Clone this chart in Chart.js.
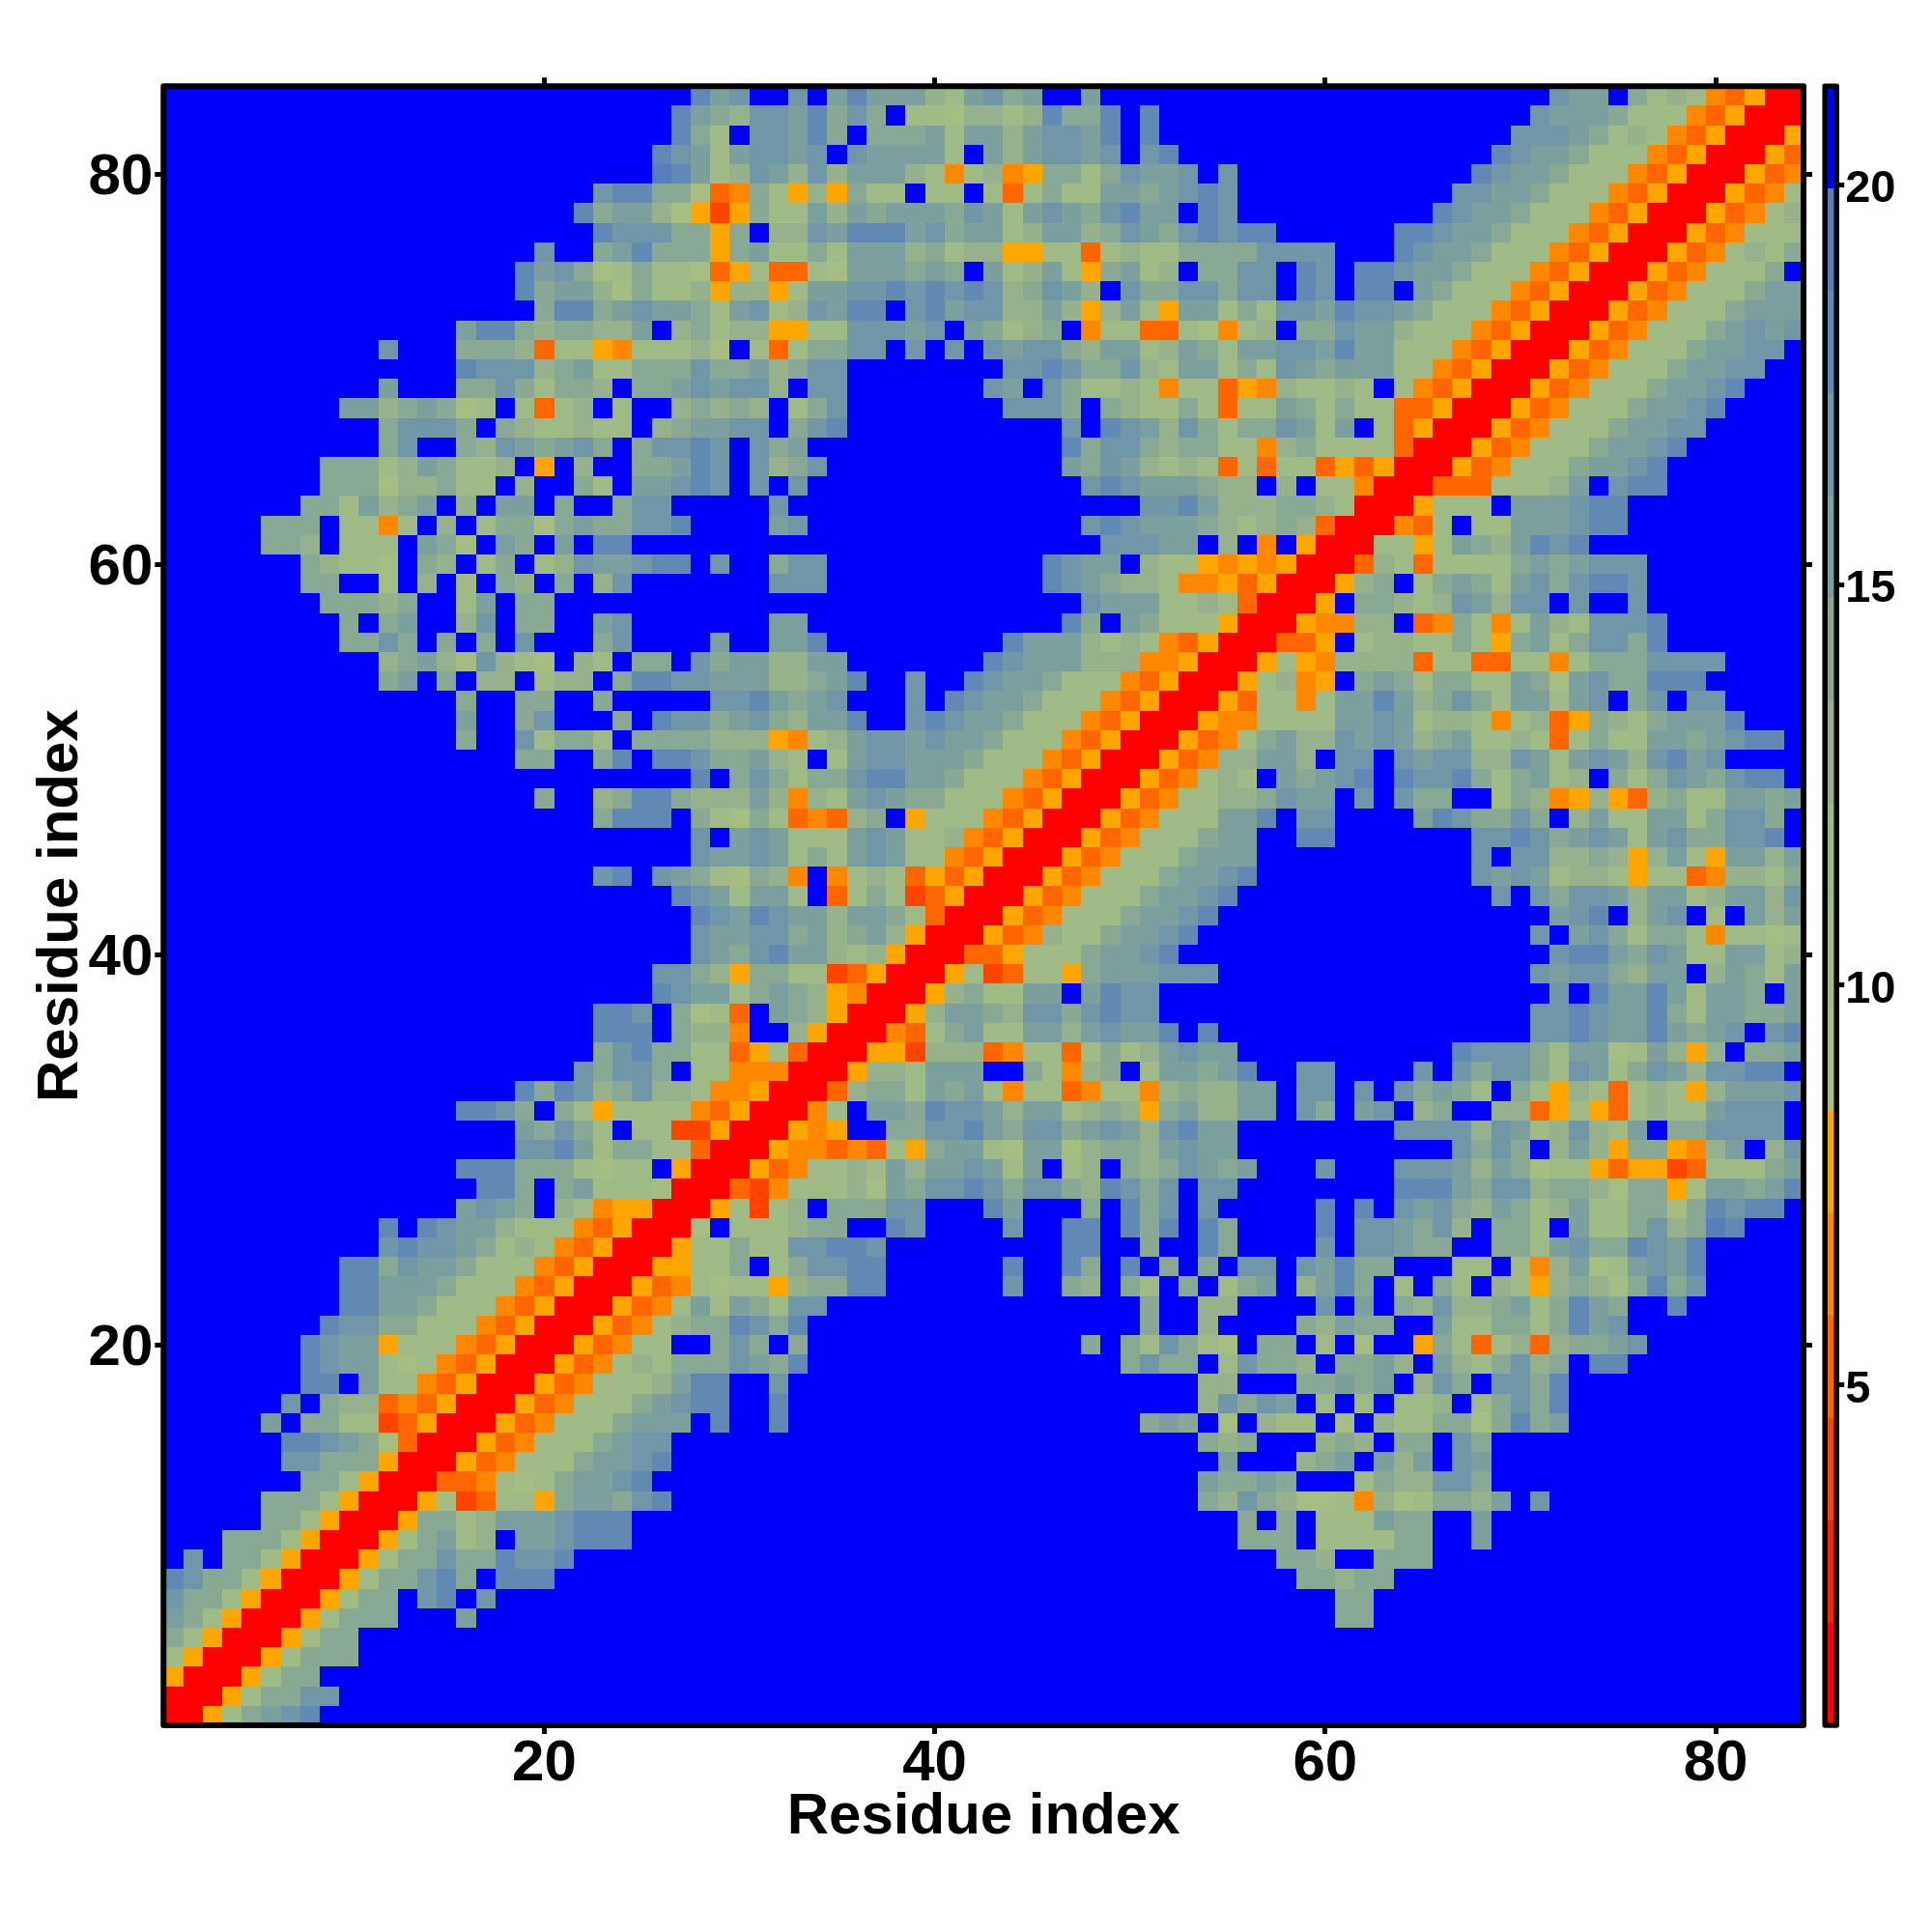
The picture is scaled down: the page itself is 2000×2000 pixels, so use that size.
<!DOCTYPE html>
<html lang="en">

<head>
    <meta charset="UTF-8">
    <title>Residue distance map</title>
    <script src="https://cdn.jsdelivr.net/npm/chart.js"></script>
    <style>
        body {
            margin: 0;
            background-color: #ffffff;
        }

        #mapChart,
        #barChart {
            position: absolute;
            top: 0;
            display: block;
        }

        #mapChart {
            left: 0;
        }

        #barChart {
            left: 1860px;
        }
    </style>
</head>

<body>

    <canvas id="mapChart" width="2000" height="2000"></canvas>
    <canvas id="barChart" width="140" height="2000"></canvas>

    <script>
        const RESIDUES = 84;
        const axisTicks = [20, 40, 60, 80];
        const barTicks = [5, 10, 15, 20];
        const axisTitle = 'Residue index';

        // colour band edges
        const bandEdges = [0.75, 2.03, 3.31, 4.59, 5.87, 7.15, 8.43, 9.71, 10.99, 12.27, 13.55, 14.83, 16.11, 17.39, 18.67, 19.95, 21.23];
        const bandColors = ['#ff0000', '#ff2200', '#ff4400', '#ff6600', '#ff8800', '#ffa500',
            '#aac07e', '#a5bd80', '#9fba85', '#96b18c', '#8aa995', '#7ca09e', '#6f97a8', '#6089b3', '#5580bb', '#0000ff'];

        // map, one hex digit (colour band) per cell.
        // top row is residue 84, each row runs from residue 1 up to the diagonal; the map is symmetric
        const distanceRows = [
            'fffffff fffffff fffffff ffffffd bcffcfb dbbb98b cabffbf fffffff fffffff fffffff fcbbfa8 9843500',
            'fffffff fffffff fffffff fffffdb a9ccbda caf8879 989daad fdfffff fffffff fffffff cbbba88 843500',
            'fffffff fffffff fffffff fffffda 8fccbda faaab8b b9bccbd fdfffff fffffff ffffffc ccba898 43500',
            'fffffff fffffff fffffff ffffdcb 8bccbcf cbbbb8f b9bccbc fcdffff fffffff fffffdc bba8884 3500',
            'fffffff fffffff fffffff ffffedb 89cb9c9 bbb9848 945aa8a cbbcfcf fffffff ffffdcb ba88843 500',
            'fffffff fffffff fffffff fcddaa7 34a8595 a88f88f 838a88b babcdcf fffffff fffccbb a888435 00',
            'fffffff fffffff fffffff dabb975 25a88b9 babbbac b8bcbac dbbfdcf fffffff ffdcbba 8884350 0',
            'fffffff fffffff fffffff fdcccaa 5af99cb dddbcab b89bb9a cbacdcd dffffff ddcbba8 8843500',
            'fffffff fffffff fffffcf fabdaaa 5ab88a8 bbb9a89 9558838 988aaaa ccccfff dcbba88 843500',
            'fffffff fffffff ffffdbc a78a887 3583387 bbbabaf b89b85a b89faac cfdcfdd cbba888 43500',
            'fffffff fffffff ffffdab b97a889 59958bb ccdcdcd c9acb9f caaccac cfdcfdd fba8884 3500',
            'fffffff fffffff fffffad dabcbba 8bc89cb ddfcdbc c99b959 b85bb8a 8ccbdcc ba88843 500',
            'fffffff fffffff fbdda9a a99bf9a 8995588 cccbcfb a89af48 8338748 9faacbb 9888435 00',
            'fffffff ffffcff faaa938 8548889 7f838aa ccfcfcf cbcca9b b89ba8b bccbdbb 8884350 0',
            'fffffff fffffff fdccc9a b88aaac aab9acc fffffff fccdcaa c98bb8a 8cbabbb 8843500',
            'fffffff ffffbff faaca8a a9faabc bcc9fcc fffffff cbfca88 9848835 498898f 843500',
            'fffffff ffbb9ab a78f838 9f8ff9a 9a9f8ac fffffff fcccafa 988a838 8ba8a88 33500',
            'fffffff ffffacc cafa988 988f9ab bccfacd fffffff ffffcfd cb9ca8a acb8bf8 3500',
            'fffffff ffffacf fa9cbab cafaccd cfcabff fffffff ffffdac ca9aa88 49a8888 300',
            'fffffff faaa89b a889f5f 9ffaabd cfc9acf fffffff ffffbac b989838 3883535 00',
            'fffffff faaa799 a88f9ff a8fbbcd cfcfcff fffffff fffffcd cbbba99 f9f8840 0',
            'fffffff aa8b9ab f9fbbfa ffaccff fffcfff fffffff fffffff fccdb99 9aa9800',
            'fffffaa af8848f 9f8aa7a baaccdf fffbcff fffffff fffffcd cbbba98 9a9300',
            'fffffaa 9f888fb a7fbafb fddffff fffffff fffffff ffffffc ccbbf9f 4f500',
            'fffffff a9887fa 9f8af89 cbbcddf cffaccf fffffff fffdcbb f988545 4500',
            'fffffff aaff7f9 f8fa9fa f9cffff fffcccf fffffff fffdcba 9984453 500',
            'fffffff faaa9af f8bfaaf fffffff fffffff fffffff fffffcb bb88983 00',
            'fffffff ffafabf f9cfaaf fbcffff fffbbff fffffff ffffdaf ba88850 0',
            'fffffff ffaacaf afafcff facffff bffbbdf fffffff fdbbb98 9843500',
            'fffffff ffff9ab 97c987f 98faafc abb99bb fffffff dcbbb99 944500',
            'fffffff ffffabf af99f89 9faddcc bbb99ab dffcffd cbba888 43500',
            'fffffff fffffff faffaaf fafffff ccdbabc fffcfdc bba8884 3500',
            'fffffff fffffff fbffacf ffafdcc abca9bb dffcdcb ba88843 500',
            'fffffff fffffff faffc8a a8faaaa 9995489 bccbcbb a888435 00',
            'fffffff fffffff ffffaaf fadfddc aab98f8 bccbbba 8884350 0',
            'fffffff fffffff fffffff ffffffd faca8aa cddbba8 8843500',
            'fffffff fffffff fffffaf f9adda9 99b9498 bcbaa88 843500',
            'fffffff fffffff fffffff fadddfa 87a8343 9af5888 43500',
            'fffffff fffffff fffffff ffffffc fbcb888 bcb8894 3500',
            'fffffff fffffff fffffff ffffffc bbcb8a8 bcb8843 500',
            'fffffff fffffff fffffff fcdfcba 87a94f4 8983535 00',
            'fffffff fffffff fffffff fffffdc b8bb8f3 8a82350 0',
            'fffffff fffffff fffffff ffffffd cbdcbb9 bba8300',
            'fffffff fffffff fffffff ffffffc bbccab9 ab9500',
            'fffffff fffffff fffffff ffffffc bacdbb9 89500',
            'fffffff fffffff fffffff ffffcca 95aa882 3500',
            'fffffff fffffff fffffff ffffdcb b8aba95 400',
            'fffffff fffffff fffffff fddcfa7 83fba95 00',
            'fffffff fffffff fffffff fdddfa9 94ff950 0',
            'fffffff fffffff fffffff facdaa8 8358300',
            'fffffff fffffff fffffff caccaf8 844400',
            'fffffff fffffff ffffdad c9ac998 44500',
            'fffffff fffffff fddcafa 8588884 3500',
            'fffffff fffffff ffffbac a8f8822 500',
            'fffffff fffffff ffffccd b8aa883 00',
            'fffffff fffffff fdddaaa 8788f50 0',
            'fffffff fffffff ffddafa b888700',
            'fffffff fffffff fbcbaf9 845500',
            'fffffff ffffdfd cbb9888 43500',
            'fffffff ffffcdc cba8984 3500',
            'fffffff ffddacb ba88843 500',
            'fffffff ffddbbb a888435 00',
            'fffffff ffddbba 8884350 0',
            'fffffff fdccaa8 8843500',
            'fffffff dcbb588 843500',
            'fffffff dcbb878 43500',
            'fffffff ddfb884 3500',
            'ffffffc fa99343 500',
            'fffffbf aa88235 00',
            'ffffffd dcba730 0',
            'ffffffc caaa500',
            'fffffff aa8500',
            'fffffaa a8500',
            'fffffaa 8500',
            'fffaaa8 500',
            'fcfaa85 00',
            'dcaa850 0',
            'caa8500',
            'ba8500',
            'a8500',
            '8500',
            '500',
            '00',
            '0'
        ];

        // 把三角形的数据展开成散点
        function buildCells() {
            const cells = [];
            distanceRows.forEach((row, i) => {
                const y = RESIDUES - i;
                const codes = row.replace(/ /g, '');
                if (codes.length !== y) console.warn('row length', y, codes.length);
                for (let x = 1; x <= y; x++) {
                    const band = parseInt(codes[x - 1], 16);
                    const v = (bandEdges[band] + bandEdges[band + 1]) / 2;
                    cells.push({ x: x, y: y, v: v });
                    if (x !== y) cells.push({ x: y, y: x, v: v });
                }
            });
            return cells;
        }

        function colorFor(v) {
            for (let i = 0; i < bandColors.length; i++) {
                if (v < bandEdges[i + 1]) return bandColors[i];
            }
            return bandColors[bandColors.length - 1];
        }

        const cellPlugin = {
            id: 'cellPlugin',
            afterDatasetsDraw(chart) {
                const ctx = chart.ctx;
                const xs = chart.scales.x;
                const ys = chart.scales.y;
                ctx.save();
                chart.data.datasets[0].data.forEach(c => {
                    const x0 = Math.round(xs.getPixelForValue(c.x - 0.5));
                    const x1 = Math.round(xs.getPixelForValue(c.x + 0.5));
                    const y0 = Math.round(ys.getPixelForValue(c.y + 0.5));
                    const y1 = Math.round(ys.getPixelForValue(c.y - 0.5));
                    ctx.fillStyle = colorFor(c.v);
                    ctx.fillRect(x0, y0, x1 - x0, y1 - y0);
                });
                ctx.restore();
            }
        };

        const framePlugin = {
            id: 'framePlugin',
            afterDraw(chart, args, opts) {
                const a = chart.chartArea;
                const ctx = chart.ctx;
                ctx.save();
                ctx.strokeStyle = '#000000';
                ctx.lineWidth = opts.width;
                ctx.lineJoin = 'round';
                ctx.strokeRect(a.left, a.top, a.right - a.left, a.bottom - a.top);
                ctx.restore();
            }
        };

        const tickFont = { family: 'Liberation Sans', size: 60, weight: 'bold' };
        const titleFont = { family: 'Liberation Sans', size: 60, weight: 'bold' };

        function setTicks(values) {
            return axis => {
                axis.ticks = values.map(v => ({ value: v }));
            };
        }

        // one residue axis; size is the space kept for it outside the plot
        function residueAxis(position, size, withLabels, labelPadding, labelOffset) {
            const axis = {
                type: 'linear',
                position: position,
                min: 0.5,
                max: RESIDUES + 0.5,
                afterBuildTicks: setTicks(axisTicks),
                afterFit(scale) {
                    if (scale.isHorizontal()) scale.height = size;
                    else scale.width = size;
                },
                border: { display: false },
                grid: {
                    drawOnChartArea: false,
                    drawTicks: true,
                    color: '#000000',
                    lineWidth: 5,
                    tickLength: 9
                },
                ticks: {
                    display: withLabels,
                    color: '#000000',
                    font: tickFont,
                    padding: labelPadding,
                    labelOffset: labelOffset,
                    maxRotation: 0,
                    minRotation: 0,
                    autoSkip: false
                }
            };
            return axis;
        }

        function renderMap() {
            const scales = {
                x: residueAxis('bottom', 214, true, -5, 0),
                y: residueAxis('left', 169.3, true, 2, 4),
                x2: residueAxis('top', 89.3, false, 0, 0),
                y2: residueAxis('right', 133, false, 0, 0)
            };
            scales.x.title = { display: true, text: axisTitle, color: '#000000', font: titleFont, padding: { top: 0, bottom: 83 } };
            scales.y.title = { display: true, text: axisTitle, color: '#000000', font: titleFont, padding: { top: 27.6, bottom: 0 } };

            new Chart(document.getElementById('mapChart'), {
                type: 'scatter',
                data: {
                    datasets: [{
                        label: 'Distance',
                        data: buildCells(),
                        pointRadius: 0,
                        showLine: false
                    }]
                },
                options: {
                    responsive: false,
                    animation: false,
                    layout: { padding: 0 },
                    plugins: {
                        legend: { display: false },
                        tooltip: { enabled: false },
                        framePlugin: { width: 6 }
                    },
                    scales: scales
                },
                plugins: [cellPlugin, framePlugin]
            });
        }

        // 颜色条：每个色带一根浮动柱
        function renderBar() {
            const datasets = bandColors.map((color, i) => ({
                label: 'band ' + i,
                data: [[bandEdges[i], bandEdges[i + 1]]],
                backgroundColor: color,
                borderWidth: 0,
                barPercentage: 1,
                categoryPercentage: 1,
                grouped: false
            }));

            new Chart(document.getElementById('barChart'), {
                type: 'bar',
                data: { labels: [''], datasets: datasets },
                options: {
                    responsive: false,
                    animation: false,
                    layout: { padding: { left: 29.2, top: 89.3, bottom: 214, right: 0 } },
                    plugins: {
                        legend: { display: false },
                        tooltip: { enabled: false },
                        framePlugin: { width: 5.5 }
                    },
                    scales: {
                        x: { display: false },
                        y: {
                            position: 'right',
                            min: bandEdges[0],
                            max: bandEdges[bandEdges.length - 1],
                            afterBuildTicks: setTicks(barTicks),
                            afterFit(scale) {
                                scale.width = 98.8;
                            },
                            border: { display: false },
                            grid: {
                                drawOnChartArea: false,
                                color: '#000000',
                                lineWidth: 5,
                                tickLength: 8
                            },
                            ticks: {
                                color: '#000000',
                                font: { family: 'Liberation Sans', size: 47, weight: 'bold' },
                                padding: 1,
                                labelOffset: 5,
                                autoSkip: false
                            }
                        }
                    }
                },
                plugins: [framePlugin]
            });
        }

        document.addEventListener('DOMContentLoaded', () => {
            renderMap();
            renderBar();
        });
    </script>

</body>

</html>
